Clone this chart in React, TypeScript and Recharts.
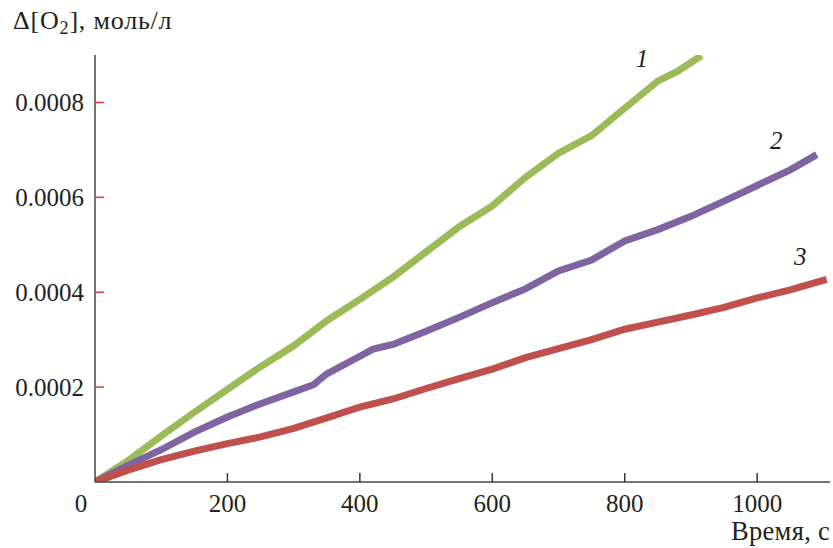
import React from "react";
import { LineChart, Line, XAxis, YAxis, ReferenceDot } from "recharts";

// time, s
const timeCurve1 = [0, 50, 100, 150, 200, 250, 300, 350, 400, 450, 500, 550, 600, 650, 700, 750, 800, 850, 880, 916];
const timeCurve2 = [0, 50, 100, 150, 200, 250, 300, 330, 350, 400, 420, 450, 500, 550, 600, 650, 700, 750, 800, 850, 900, 950, 1000, 1050, 1090];
const timeCurve3 = [0, 50, 100, 150, 200, 250, 300, 350, 400, 450, 500, 550, 600, 650, 700, 750, 800, 850, 900, 950, 1000, 1050, 1105];

// Δ[O2], mol/L
const o2Curve1 = [0, 0.000045, 0.000097, 0.000147, 0.000195, 0.000243, 0.000287, 0.00034, 0.000385, 0.000432, 0.000485, 0.000538, 0.000582, 0.000642, 0.000693, 0.00073, 0.000788, 0.000845, 0.000866, 0.000899];
const o2Curve2 = [0, 0.000035, 0.000068, 0.000105, 0.000137, 0.000165, 0.00019, 0.000205, 0.000228, 0.000265, 0.00028, 0.00029, 0.000318, 0.000347, 0.000378, 0.000407, 0.000445, 0.000468, 0.000508, 0.000532, 0.00056, 0.000592, 0.000625, 0.000658, 0.00069];
const o2Curve3 = [0, 0.000025, 0.000047, 0.000065, 0.000081, 0.000095, 0.000113, 0.000135, 0.000158, 0.000175, 0.000197, 0.000218, 0.000238, 0.000262, 0.000281, 0.0003, 0.000322, 0.000337, 0.000352, 0.000368, 0.000388, 0.000405, 0.000427];

const xTicks = [0, 200, 400, 600, 800, 1000];
const yTicks = [0.0002, 0.0004, 0.0006, 0.0008];

const curveLabels = [
  { name: "1", t: 826, v: 0.000893 },
  { name: "2", t: 1029, v: 0.00072 },
  { name: "3", t: 1065, v: 0.000477 },
];

const toPoints = (ts: number[], vs: number[]) => ts.map((t, i) => ({ t, v: vs[i] }));

const series = [
  { key: "1", data: toPoints(timeCurve1, o2Curve1), color: "#9bbb59" },
  { key: "2", data: toPoints(timeCurve2, o2Curve2), color: "#8064a2" },
  { key: "3", data: toPoints(timeCurve3, o2Curve3), color: "#c0504d" },
];

const FONT = '"Liberation Serif", "Times New Roman", serif';
const TEXT = "#231f20";

const YTick = (props: any) => {
  const { x, y, payload } = props;
  return (
    <g>
      <line x1={x} x2={x + 9} y1={y} y2={y} stroke="#e8323c" strokeWidth={1.5} />
      <text x={x - 11} y={y} dy={9} textAnchor="end" fontSize={25} fill={TEXT} fontFamily={FONT}>
        {payload.value.toFixed(4)}
      </text>
    </g>
  );
};

const XTick = (props: any) => {
  const { x, y, payload } = props;
  const isZero = payload.value === 0;
  return (
    <g>
      {!isZero && <line x1={x} x2={x} y1={y} y2={y - 9} stroke="#333" strokeWidth={1.5} />}
      <text x={x} y={y} dx={isZero ? -14 : 0} dy={30} textAnchor="middle" fontSize={25} fill={TEXT} fontFamily={FONT}>
        {payload.value}
      </text>
    </g>
  );
};

export default function App() {
  return (
    <div style={{ position: "absolute", left: 0, top: 0, width: 833, height: 548, background: "#fff" }}>
      <div style={{ position: "absolute", left: 13, top: 6, fontFamily: FONT, fontSize: 26, letterSpacing: 0.8, color: TEXT, whiteSpace: "nowrap" }}>
        Δ[O<sub style={{ fontSize: 18, verticalAlign: "-5px" }}>2</sub>], моль/л
      </div>
      <div style={{ position: "absolute", left: 731, top: 518, fontFamily: FONT, fontSize: 26.5, lineHeight: 1, letterSpacing: 0.3, color: TEXT, whiteSpace: "nowrap" }}>
        Время, с
      </div>
      <LineChart width={833} height={548} margin={{ top: 55, right: 3, left: 0, bottom: 26 }}>
        <XAxis
          type="number"
          dataKey="t"
          domain={[0, 1110]}
          ticks={xTicks}
          allowDataOverflow
          height={40}
          tickSize={0}
          tickMargin={0}
          tickLine={false}
          tick={<XTick />}
          axisLine={{ stroke: "#444", strokeWidth: 1.5 }}
        />
        <YAxis
          type="number"
          dataKey="v"
          domain={[0, 0.0009]}
          ticks={yTicks}
          allowDataOverflow
          width={95}
          tickSize={0}
          tickMargin={0}
          tickLine={false}
          tick={<YTick />}
          axisLine={{ stroke: "#444", strokeWidth: 1.5 }}
        />
        {series.map((s) => (
          <Line
            key={s.key}
            data={s.data}
            dataKey="v"
            type="linear"
            stroke={s.color}
            strokeWidth={7}
            dot={false}
            activeDot={false}
            isAnimationActive={false}
          />
        ))}
        {curveLabels.map((l) => (
          <ReferenceDot
            key={l.name}
            x={l.t}
            y={l.v}
            r={0}
            fill="none"
            stroke="none"
            label={{ value: l.name, position: "center", fontSize: 25, fontStyle: "italic", fill: TEXT, fontFamily: FONT }}
          />
        ))}
      </LineChart>
    </div>
  );
}
